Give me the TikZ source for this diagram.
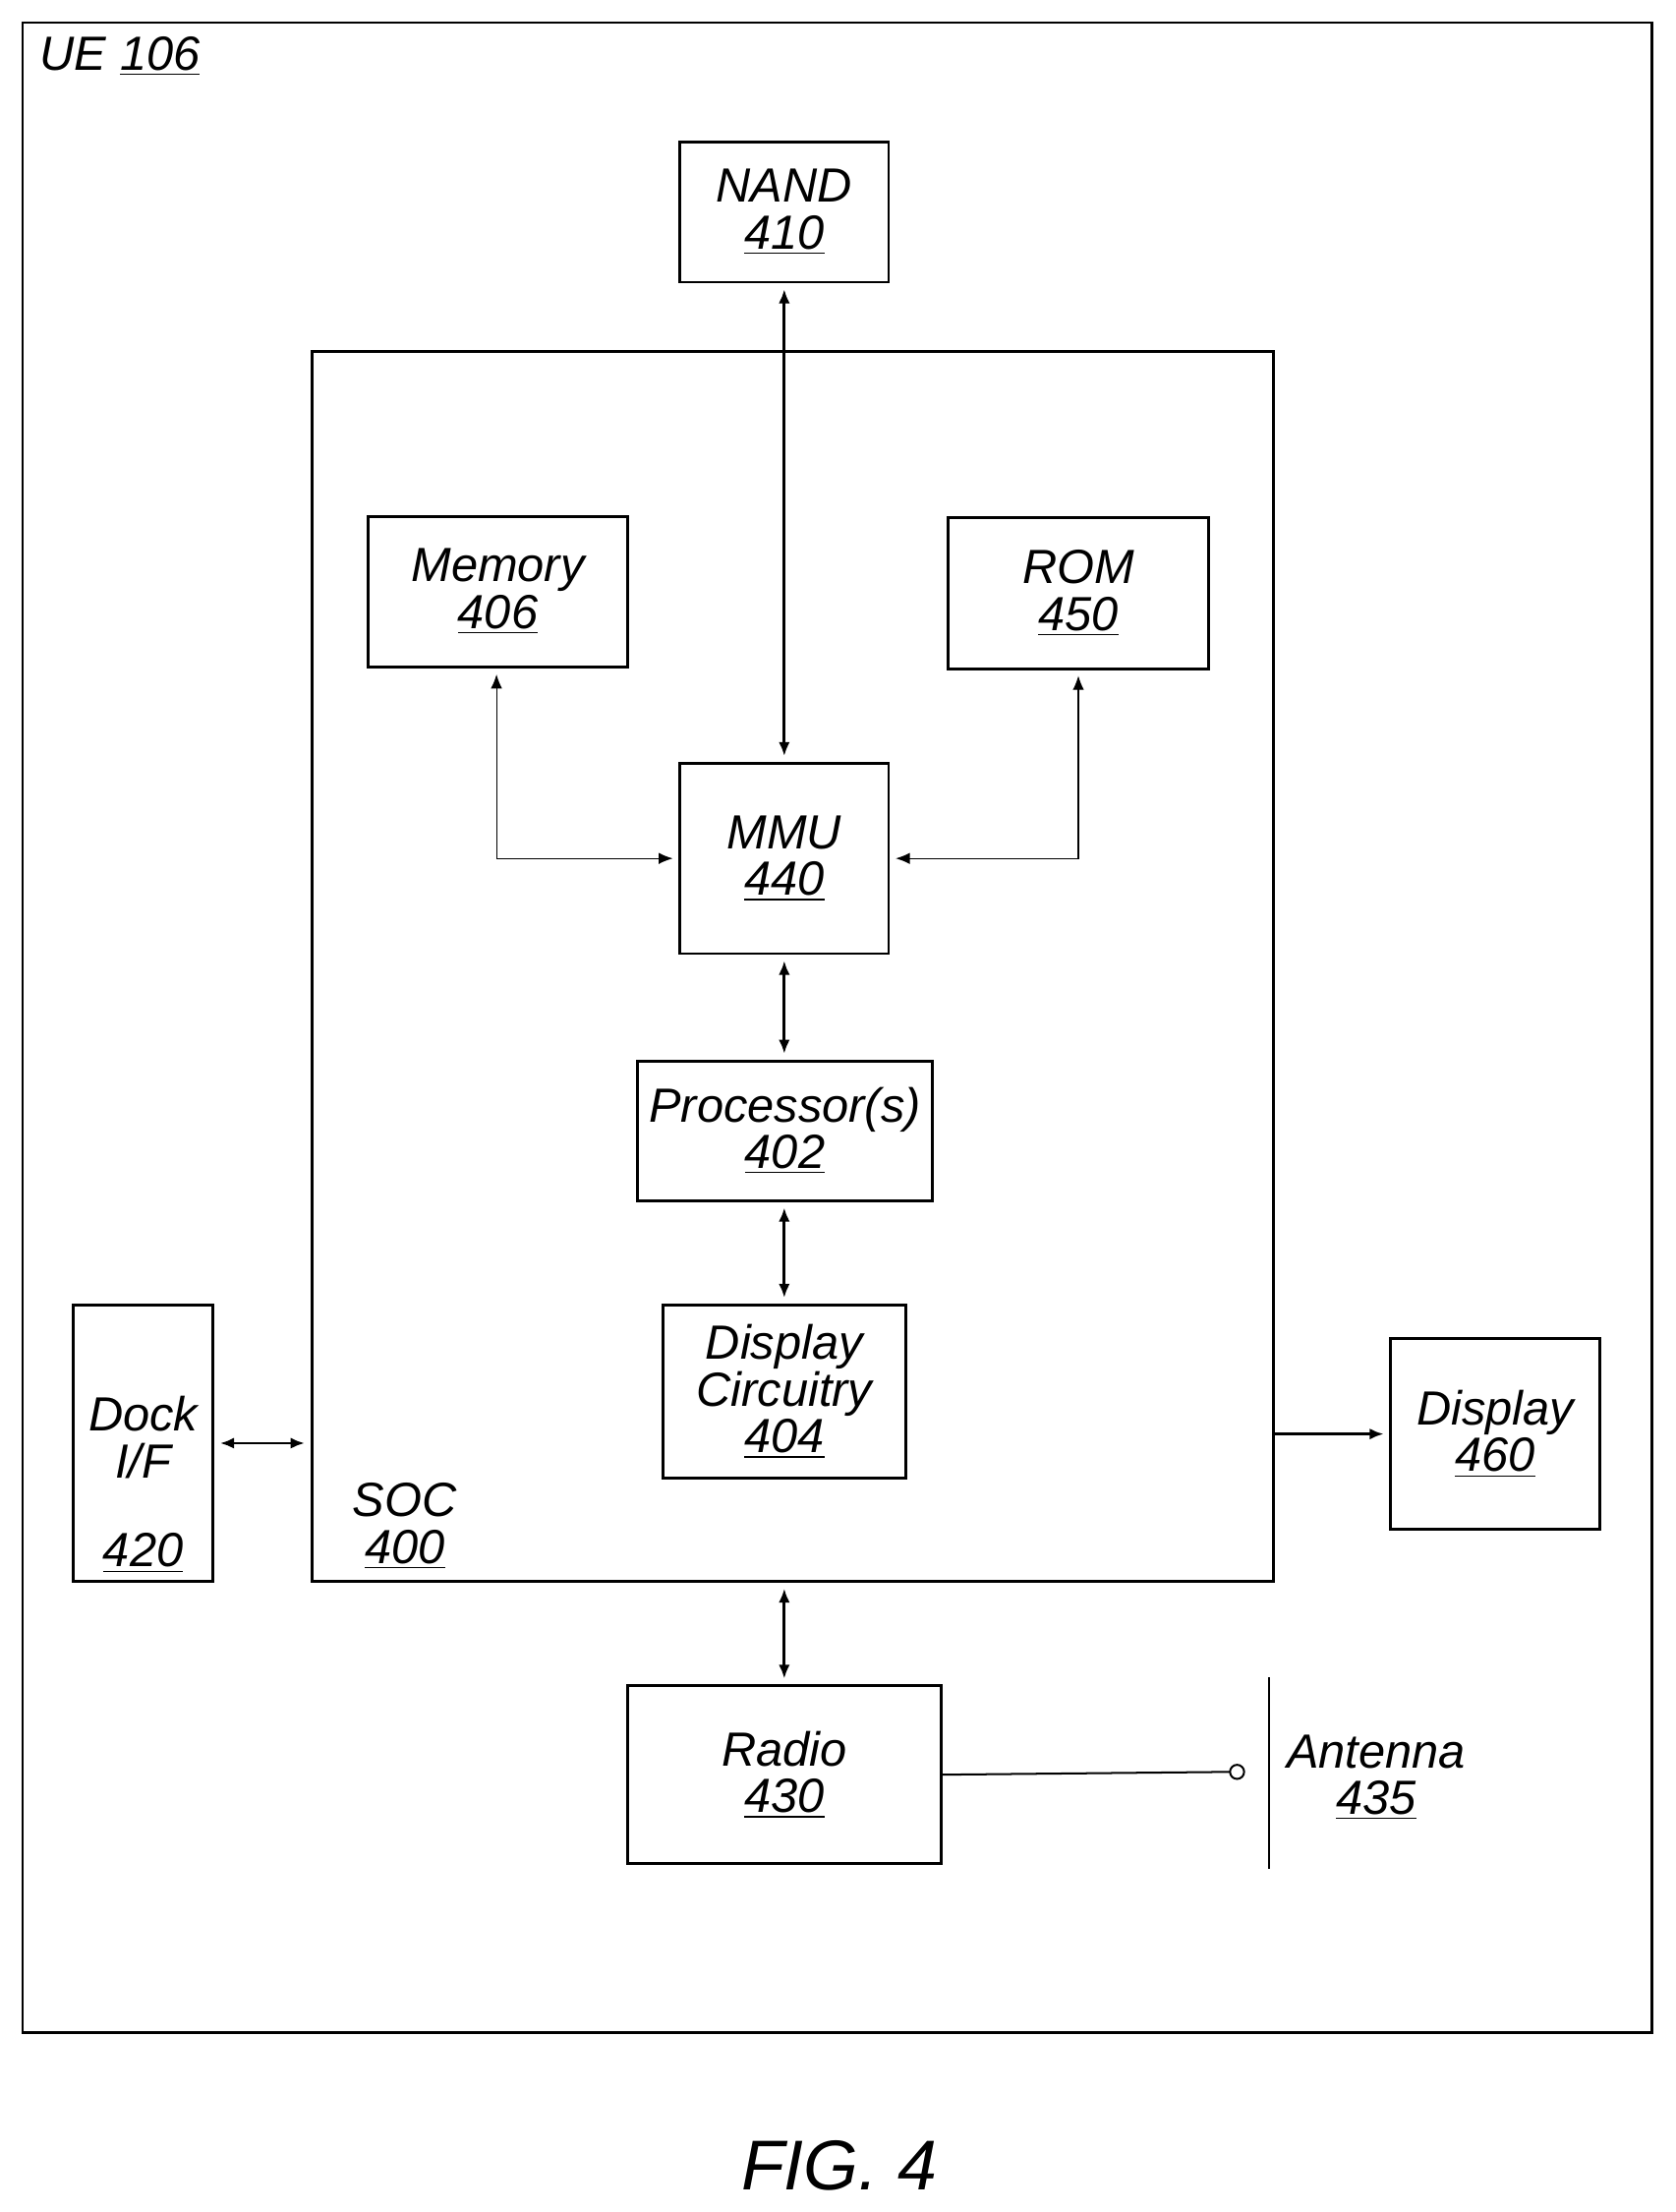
\documentclass[tikz,border=0pt]{standalone}
\usepackage{fontspec}
\setmainfont{Liberation Sans}
\usetikzlibrary{arrows.meta,calc}

\tikzset{
	box/.style={draw, line width=1pt, align=center, inner sep=0pt, font=\itshape\fontsize{17}{16.5}\selectfont},
	lbl/.style={align=center, inner sep=0pt, font=\itshape\fontsize{17}{16.5}\selectfont},
	link/.style={line width=1pt, {Latex[length=5pt,width=4pt]}-{Latex[length=5pt,width=4pt]}, shorten <=2pt, shorten >=2pt},
	thin link/.style={link, line width=0.4pt}
}

\begin{document}
\begin{tikzpicture}[x=0.5pt, y=-0.5pt]
\useasboundingbox (0,0) rectangle (1188,1568);
\draw[line width=1pt] (16,16) rectangle (1171,1441);
\node[lbl, anchor=west] (ue) at (28,40) {UE \underline{106}};

%% Blocks %%
\node[box, minimum width=74pt, minimum height=49.5pt] (nand) at (556,150.5) {NAND\\\underline{410}};
\node[box, minimum width=341pt, minimum height=436pt] (soc) at (562,685) {};
\node[lbl] (soclbl) at (287,1082) {SOC\\\underline{400}};
\node[box, minimum width=92pt, minimum height=53.5pt] (mem) at (353,419.5) {Memory\\\underline{406}};
\node[box, minimum width=92.5pt, minimum height=53.5pt] (rom) at (764.5,420.5) {ROM\\\underline{450}};
\node[box, minimum width=74pt, minimum height=67.5pt] (mmu) at (556,608.5) {MMU\\\underline{440}};
\node[box, minimum width=104.5pt, minimum height=49.5pt] (proc) at (556.5,801.5) {Processor(s)\\\underline{402}};
\node[box, minimum width=86pt, minimum height=61.5pt] (dispc) at (556,986.5) {Display\\Circuitry\\\underline{404}};
\node[box, minimum width=49.5pt, minimum height=98pt] (dock) at (101.5,1023) {};
\node[lbl] (docklbl) at (101.5,1019) {Dock\\I/F};
\node[lbl] (docknum) at (101.5,1101) {\underline{420}};
\node[box, minimum width=74pt, minimum height=67.5pt] (disp) at (1060,1016.5) {Display\\\underline{460}};
\node[box, minimum width=111pt, minimum height=63pt] (radio) at (556,1258) {Radio\\\underline{430}};

%% Antenna %%
\coordinate (ant) at (877,1256);
\draw[line width=0.7pt] (900,1189) -- (900,1325);
\draw[line width=0.7pt] (ant) circle[radius=2.5pt];
\draw[line width=0.7pt] (radio.east) -- ($(ant)+(-5,0)$);
\node[lbl, anchor=west] (antlbl) at (912,1260) {Antenna\\\underline{435}};

%% Connections %%
\draw[link] (nand.south) -- (mmu.north);
\draw[thin link] ([xshift=-0.5pt]mem.south) |- (mmu.west);
\draw[thin link] (rom.south) |- (mmu.east);
\draw[link] (mmu.south) -- (proc.north -| mmu.south);
\draw[link] (proc.south -| dispc.north) -- (dispc.north);
\draw[link] (dock.east) -- (dock.east -| soc.west);
\draw[line width=1pt, -{Latex[length=5pt,width=4pt]}, shorten >=2pt] (disp.west -| soc.east) -- (disp.west);
\draw[link] (soc.south -| radio.north) -- (radio.north);

\node[font=\itshape\fontsize{25}{25}\selectfont] (fig) at (595,1535) {FIG. 4};
\end{tikzpicture}
\end{document}
